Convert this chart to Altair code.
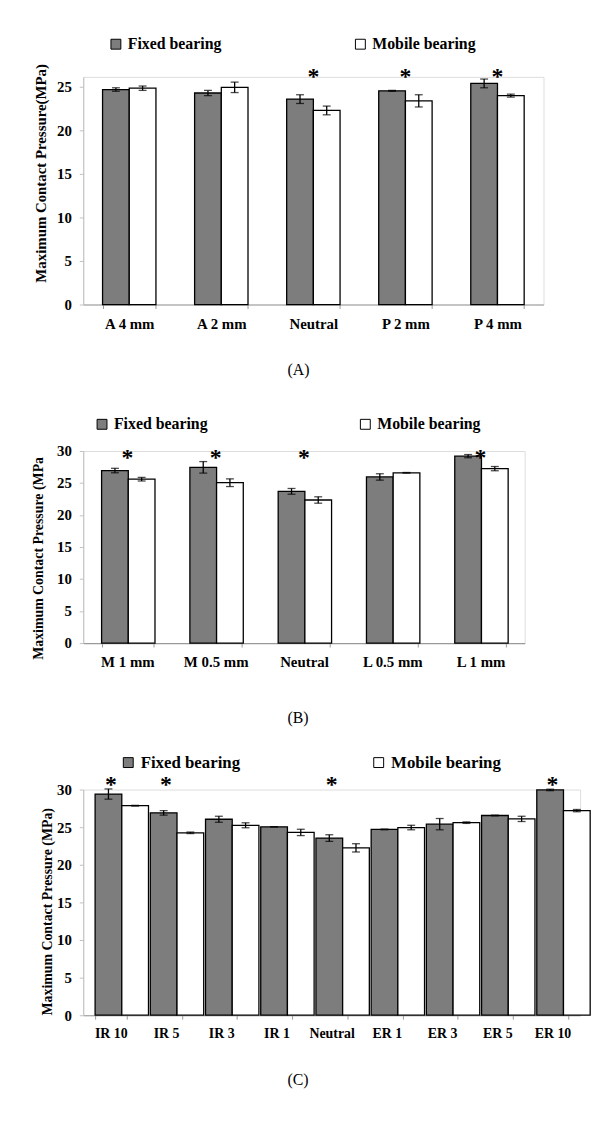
import altair as alt
import pandas as pd

FIXED = "Fixed bearing"
MOBILE = "Mobile bearing"
GROUPS = [FIXED, MOBILE]
FILLS = ["#7d7d7d", "#ffffff"]

# ---- Panel A ----
a_cats = ["A 4 mm", "A 2 mm", "Neutral", "P 2 mm", "P 4 mm"]
a_fixed = [24.65, 24.25, 23.55, 24.5, 25.35]
a_fixed_err = [0.2, 0.3, 0.5, 0.05, 0.5]
a_mobile = [24.8, 24.9, 22.25, 23.35, 23.95]
a_mobile_err = [0.25, 0.6, 0.5, 0.7, 0.17]
a_sig = [False, False, True, True, True]

# ---- Panel B ----
b_cats = ["M 1 mm", "M 0.5 mm", "Neutral", "L 0.5 mm", "L 1 mm"]
b_fixed = [26.95, 27.45, 23.7, 25.95, 29.2]
b_fixed_err = [0.35, 0.9, 0.45, 0.5, 0.25]
b_mobile = [25.6, 25.05, 22.35, 26.6, 27.25]
b_mobile_err = [0.28, 0.6, 0.5, 0.05, 0.33]
b_sig = [True, True, True, False, True]

# ---- Panel C ----
c_cats = ["IR 10", "IR 5", "IR 3", "IR 1", "Neutral", "ER 1", "ER 3", "ER 5", "ER 10"]
c_fixed = [29.4, 26.9, 26.05, 25.05, 23.55, 24.7, 25.4, 26.55, 29.95]
c_fixed_err = [0.68, 0.3, 0.4, 0.0, 0.44, 0.05, 0.75, 0.05, 0.1]
c_mobile = [27.85, 24.25, 25.25, 24.3, 22.25, 24.95, 25.6, 26.1, 27.2]
c_mobile_err = [0.05, 0.1, 0.33, 0.42, 0.55, 0.3, 0.1, 0.35, 0.15]
c_sig = [True, True, False, False, True, False, False, False, True]

SERIF = "Liberation Serif"


def panel(cats, fixed, ferr, mobile, merr, sig, *, width, height, ymax, yvalues,
          ytitle, title_x, title_y, title_size, pad_inner, label_size,
          leg_x, leg_y, leg_size, col_pad, star_y, caption, cap_offset, cap_dx):
    rows = []
    for c, v, e in zip(cats, fixed, ferr):
        rows.append(dict(cat=c, grp=FIXED, val=v, lo=v - e, hi=v + e))
    for c, v, e in zip(cats, mobile, merr):
        rows.append(dict(cat=c, grp=MOBILE, val=v, lo=v - e, hi=v + e))
    df = pd.DataFrame(rows)
    sig_df = pd.DataFrame({"cat": [c for c, s in zip(cats, sig) if s]})

    xscale = alt.Scale(domain=cats, paddingInner=pad_inner, paddingOuter=pad_inner / 2)
    xaxis = alt.Axis(title=None, labelAngle=0, labelFont=SERIF, labelFontSize=label_size,
                     labelFontWeight="bold", labelColor="black", labelPadding=8,
                     tickSize=4, tickColor="#9a9a9a", tickBand="extent",
                     domainColor="#9a9a9a", domainWidth=1.2)
    xo = alt.XOffset("grp:N", scale=alt.Scale(domain=GROUPS, paddingInner=0, paddingOuter=0))
    yscale = alt.Scale(domain=[0, ymax], nice=False, zero=True)
    yaxis = alt.Axis(values=yvalues, title=ytitle, titleFont=SERIF, titleFontSize=title_size,
                     titleFontWeight="bold", titleColor="black", titleX=title_x, titleY=title_y,
                     titleBaseline="middle", titleAngle=-90,
                     labelFont=SERIF, labelFontSize=15, labelFontWeight="bold",
                     labelColor="black", labelPadding=8, tickSize=4, tickColor="#c0c0c0",
                     domainColor="#c0c0c0", grid=False, labelOverlap=False)
    fill = alt.Fill("grp:N", scale=alt.Scale(domain=GROUPS, range=FILLS),
                    legend=alt.Legend(title=None, orient="none", legendX=leg_x, legendY=leg_y,
                                      direction="horizontal", symbolType="square",
                                      symbolSize=100, symbolStrokeColor="black",
                                      symbolStrokeWidth=1, symbolOpacity=1,
                                      labelFont=SERIF, labelFontSize=leg_size,
                                      labelFontWeight="bold", labelColor="black",
                                      labelOffset=4, columnPadding=col_pad, padding=0,
                                      labelLimit=300))

    def xenc():
        return alt.X("cat:N", scale=xscale, axis=xaxis)

    def yenc(field):
        return alt.Y(field, scale=yscale, axis=yaxis)

    bars = alt.Chart(df).mark_bar(stroke="black", strokeWidth=1.3, fillOpacity=1).encode(
        x=xenc(), xOffset=xo, y=yenc("val:Q"), fill=fill)
    rules = alt.Chart(df).mark_rule(color="black", strokeWidth=1.3).encode(
        x=xenc(), xOffset=xo, y=yenc("lo:Q"), y2="hi:Q")
    cap_lo = alt.Chart(df).mark_tick(color="black", thickness=1.3, size=8,
                                     orient="horizontal").encode(
        x=xenc(), xOffset=xo, y=yenc("lo:Q"))
    cap_hi = alt.Chart(df).mark_tick(color="black", thickness=1.3, size=8,
                                     orient="horizontal").encode(
        x=xenc(), xOffset=xo, y=yenc("hi:Q"))
    stars = alt.Chart(sig_df).mark_text(text="*", font=SERIF, fontSize=24,
                                        fontWeight="bold", baseline="alphabetic",
                                        color="black").encode(
        x=xenc(), y=alt.value(star_y))

    return alt.layer(bars, rules, cap_lo, cap_hi, stars).properties(
        width=width, height=height,
        title=alt.TitleParams(caption, orient="bottom", anchor="middle", frame="group",
                              font=SERIF, fontSize=16, fontWeight="normal", color="black",
                              offset=cap_offset, dx=cap_dx))


pA = panel(a_cats, a_fixed, a_fixed_err, a_mobile, a_mobile_err, a_sig,
           width=465, height=230, ymax=26.1, yvalues=[0, 5, 10, 15, 20, 25],
           ytitle="Maximum Contact Pressure(MPa)", title_x=-43, title_y=97, title_size=15,
           pad_inner=0.42, label_size=15, leg_x=25, leg_y=-41, leg_size=16, col_pad=132,
           star_y=7, caption="(A)", cap_offset=31, cap_dx=-15)
pB = panel(b_cats, b_fixed, b_fixed_err, b_mobile, b_mobile_err, b_sig,
           width=446, height=194, ymax=30, yvalues=[0, 5, 10, 15, 20, 25, 30],
           ytitle="Maximum Contact Pressure (MPa", title_x=-45, title_y=108, title_size=14,
           pad_inner=0.416, label_size=15, leg_x=11, leg_y=-35, leg_size=16, col_pad=151,
           star_y=14, caption="(B)", cap_offset=41, cap_dx=-6)
pC = panel(c_cats, c_fixed, c_fixed_err, c_mobile, c_mobile_err, c_sig,
           width=502, height=228, ymax=30, yvalues=[0, 5, 10, 15, 20, 25, 30],
           ytitle="Maximum Contact Pressure (MPa)", title_x=-36, title_y=123, title_size=14,
           pad_inner=0.43, label_size=14, leg_x=37, leg_y=-36, leg_size=17, col_pad=131,
           star_y=2, caption="(C)", cap_offset=31, cap_dx=-34)

chart = alt.vconcat(pA, pB, pC, spacing=148, bounds="flush").resolve_scale(
    fill="independent", x="independent", y="independent"
).resolve_legend(fill="independent").properties(
    padding={"left": 23, "top": 22, "right": 0, "bottom": 0}
).configure_view(stroke=None).configure(background="white")

chart.save("out.html", embed_options={"renderer": "svg", "actions": False})
